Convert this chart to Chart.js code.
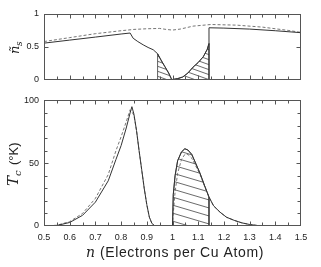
<!DOCTYPE html>
<html>
<head>
<meta charset="utf-8">
<script src="https://cdn.jsdelivr.net/npm/chart.js@4/dist/chart.umd.min.js"></script>
<style>
  html, body { margin: 0; padding: 0; background: #fff; }
  #wrap { position: relative; width: 321px; height: 267px; overflow: hidden; }
  canvas { position: absolute; left: 0; }
  #top { top: 0; }
  #bottom { top: 90px; }
</style>
</head>
<body>
<div id="wrap">
  <canvas id="top" width="321" height="90"></canvas>
  <canvas id="bottom" width="321" height="177"></canvas>
</div>
<script>
// x axis
const xMin = 0.5, xMax = 1.5;
const xTickStep = 0.1;

// top panel: superfluid density n_s
const nsSolidN = [0.5, 0.6, 0.7, 0.8, 0.835, 0.847, 0.865, 0.886, 0.905, 0.925, 0.942, 0.955, 0.97, 0.985, 0.997,
                  1.02, 1.04, 1.06, 1.08, 1.1, 1.12, 1.135, 1.142, 1.142, 1.2, 1.3, 1.4, 1.5];
const nsSolid  = [0.556, 0.602, 0.648, 0.695, 0.71, 0.63, 0.58, 0.53, 0.49, 0.455, 0.394, 0.3, 0.2, 0.1, 0,
                  0.015, 0.04, 0.1, 0.19, 0.26, 0.35, 0.46, 0.55, 0.79, 0.785, 0.77, 0.745, 0.715];
const nsDashN  = [0.5, 0.6, 0.7, 0.8, 0.85, 0.9, 0.95, 0.975, 1.0, 1.03, 1.08, 1.15, 1.25, 1.35, 1.45, 1.5];
const nsDash   = [0.58, 0.64, 0.70, 0.745, 0.765, 0.775, 0.78, 0.765, 0.755, 0.77, 0.815, 0.84, 0.83, 0.8, 0.75, 0.72];
const nsTicks  = [0, 0.5, 1];

// bottom panel: Tc
const tcN     = [0.5, 0.55, 0.6, 0.65, 0.7, 0.75, 0.78, 0.8, 0.82, 0.835, 0.842, 0.85, 0.86, 0.87, 0.88, 0.89, 0.9, 0.91, 0.92, 0.93, 0.94,
                 1.0, 1.003, 1.01, 1.02, 1.035, 1.048, 1.06, 1.075, 1.09, 1.107, 1.125, 1.142, 1.16, 1.185, 1.21, 1.24, 1.27, 1.3, 1.33, 1.36, 1.5];
const tcSolid = [0, 0.4, 2.8, 8.5, 19, 36, 53, 64, 78, 90, 95, 89, 76, 60, 45, 30, 17, 7, 2, 0.3, 0,
                 0, 25, 40, 52, 59, 61.5, 60.5, 57, 50, 42, 32, 23, 16, 11, 7, 4.5, 2.5, 1.2, 0.4, 0, 0];
const tcDash  = [0, 0.6, 3.5, 10, 22, 41, 60, 71, 83, 92.5, 91, 88, 76, 60, 45, 30, 17, 7, 2, 0.3, 0,
                 0, 10, 27, 42, 53, 57, 57, 54, 48, 41, 31.5, 23, 16, 11, 7, 4.5, 2.5, 1.2, 0.4, 0, 0];
const tcTicks = [0, 50, 100];

// hatched interval
const hatchFrom = 0.942, hatchTo = 1.142;

const pts = (xs, ys) => xs.map((x, i) => ({ x: x, y: ys[i] }));

function hatchRegion(xs, ys, a, b) {
  const out = [{ x: a, y: 0 }];
  for (let i = 0; i < xs.length; i++) {
    if (xs[i] < a - 1e-9 || xs[i] > b + 1e-9) continue;
    if (xs[i] === b && out.length && out[out.length - 1].x === b) continue;
    out.push({ x: xs[i], y: ys[i] });
  }
  out.push({ x: b, y: 0 });
  return out;
}

function hatch(h, w) {
  const c = document.createElement('canvas');
  c.width = w; c.height = h;
  const g = c.getContext('2d');
  g.strokeStyle = '#444';
  g.lineWidth = 0.8;
  for (const o of [-h, 0, h]) {
    g.beginPath();
    g.moveTo(0, o);
    g.lineTo(w, o + h);
    g.stroke();
  }
  return g.createPattern(c, 'repeat');
}

const tickFont = { family: 'Liberation Sans, Arial, sans-serif', size: 9 };
const fmt = v => String(Math.round(v * 100) / 100);

function frame(yStep, yMajorStep, drawTitle) {
  return {
    id: 'frame',
    afterDatasetsDraw(chart) {
      const { ctx, chartArea: a, scales } = chart;
      const xs = scales.x, ys = scales.y;
      const L = Math.round(a.left) + 0.5, R = Math.round(a.right) - 0.5;
      const T = Math.round(a.top) + 0.5, B = Math.round(a.bottom) - 0.5;
      ctx.save();
      ctx.strokeStyle = '#555';
      ctx.lineWidth = 1;
      ctx.strokeRect(L, T, R - L, B - T);
      ctx.beginPath();
      for (let i = 1; i < 20; i++) {
        const px = Math.round(xs.getPixelForValue(xMin + i * 0.05)) + 0.5;
        const len = i % 2 === 0 ? 4 : 3;
        ctx.moveTo(px, B); ctx.lineTo(px, B - len);
        ctx.moveTo(px, T); ctx.lineTo(px, T + len);
      }
      const n = Math.round((ys.max - ys.min) / yStep);
      for (let i = 1; i < n; i++) {
        const v = ys.min + i * yStep;
        const py = Math.round(ys.getPixelForValue(v)) + 0.5;
        const len = Math.abs(v / yMajorStep - Math.round(v / yMajorStep)) < 1e-6 ? 4 : 3;
        ctx.moveTo(L, py); ctx.lineTo(L + len, py);
        ctx.moveTo(R, py); ctx.lineTo(R - len, py);
      }
      ctx.stroke();
      ctx.restore();
    },
    afterDraw(chart) {
      const ctx = chart.ctx;
      ctx.save();
      ctx.fillStyle = '#222';
      drawTitle(ctx);
      ctx.restore();
    }
  };
}

function yScale(min, max, step, ticks) {
  return {
    min: min, max: max,
    afterFit(s) { s.width = 44; },
    afterBuildTicks(s) { s.ticks = ticks.map(v => ({ value: v })); },
    ticks: { stepSize: step, color: '#222', font: tickFont, padding: 5, callback: v => fmt(v) },
    grid: { display: false, drawTicks: false },
    border: { display: false }
  };
}

const solidStyle = { borderColor: '#333', borderWidth: 1, pointRadius: 0, fill: false, tension: 0 };
const dashStyle = { borderColor: '#666', borderWidth: 0.9, borderDash: [3, 2], pointRadius: 0, fill: false, tension: 0 };

new Chart(document.getElementById('top'), {
  type: 'line',
  data: {
    datasets: [
      Object.assign({ data: pts(nsSolidN, nsSolid) }, solidStyle),
      Object.assign({ data: pts(nsDashN, nsDash) }, dashStyle),
      { data: hatchRegion(nsSolidN, nsSolid, hatchFrom, hatchTo), fill: 'origin',
        backgroundColor: hatch(5, 14), borderColor: '#333', borderWidth: 0.8, pointRadius: 0, tension: 0 }
    ]
  },
  options: {
    responsive: false,
    animation: false,
    events: [],
    layout: { padding: { top: 14, right: 20, bottom: 10, left: 0 } },
    plugins: { legend: { display: false }, tooltip: { enabled: false } },
    scales: {
      x: { type: 'linear', min: xMin, max: xMax, display: false },
      y: yScale(0, 1, 0.5, nsTicks)
    }
  },
  plugins: [frame(0.5, 0.5, ctx => {
    ctx.translate(16, 47);
    ctx.rotate(-Math.PI / 2);
    ctx.textBaseline = 'alphabetic';
    ctx.font = 'italic 13px "DejaVu Serif", serif';
    ctx.fillText('ñ', -7, 3);
    ctx.font = 'italic 9px "DejaVu Serif", serif';
    ctx.fillText('s', 1, 6);
  })]
});

new Chart(document.getElementById('bottom'), {
  type: 'line',
  data: {
    datasets: [
      Object.assign({ data: pts(tcN, tcSolid) }, solidStyle),
      Object.assign({ data: pts(tcN, tcDash) }, dashStyle),
      { data: hatchRegion(tcN, tcSolid, 1.0, hatchTo), fill: 'origin',
        backgroundColor: hatch(8, 27), borderColor: '#333', borderWidth: 0.8, pointRadius: 0, tension: 0 }
    ]
  },
  options: {
    responsive: false,
    animation: false,
    events: [],
    layout: { padding: { top: 7, right: 20, bottom: 0, left: 0 } },
    plugins: { legend: { display: false }, tooltip: { enabled: false } },
    scales: {
      x: {
        type: 'linear', min: xMin, max: xMax,
        afterFit(s) { s.height = 41; },
        ticks: { stepSize: xTickStep, color: '#222', font: tickFont, padding: 6, maxRotation: 0, autoSkip: false, callback: v => fmt(v) },
        grid: { display: false, drawTicks: false },
        border: { display: false }
      },
      y: yScale(0, 100, 10, tcTicks)
    }
  },
  plugins: [frame(10, 50, ctx => {
    // x title
    ctx.textBaseline = 'alphabetic';
    ctx.font = 'italic 14px "DejaVu Serif", serif';
    ctx.fillText('n', 86, 167);
    ctx.font = '14px "Liberation Sans", Arial, sans-serif';
    ctx.letterSpacing = '0.6px';
    ctx.fillText('(Electrons per Cu Atom)', 100, 167);
    ctx.letterSpacing = '0px';
    // y title
    ctx.translate(18, 72);
    ctx.rotate(-Math.PI / 2);
    ctx.font = 'italic 15px "DejaVu Serif", serif';
    ctx.fillText('T', -24, 0);
    ctx.font = 'italic 10px "DejaVu Serif", serif';
    ctx.fillText('c', -14, 3);
    ctx.font = '13px "Liberation Sans", Arial, sans-serif';
    ctx.fillText('(°K)', -3, 0);
  })]
});
</script>
</body>
</html>
